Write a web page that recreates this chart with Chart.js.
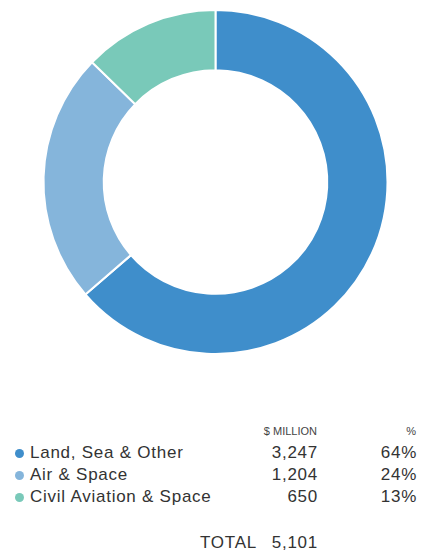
<!DOCTYPE html>
<html>
<head>
<meta charset="utf-8">
<script src="https://cdn.jsdelivr.net/npm/chart.js@4"></script>
<style>
  body { margin: 0; background: #fff; font-family: "Liberation Sans", Arial, sans-serif; color: #333; }
  #wrap { position: relative; width: 431px; height: 551px; }
  #chart { position: absolute; left: 0; top: 0; }
  .cell { position: absolute; white-space: nowrap; line-height: 22px; }
  .num { text-align: right; }
  .head { font-size: 11px; color: #444; line-height: 14px; }
  .row { font-size: 17px; letter-spacing: 0.75px; }
  .dot { position: absolute; width: 9px; height: 9px; border-radius: 50%; }
</style>
</head>
<body>
<div id="wrap">
  <canvas id="chart" width="431" height="364"></canvas>
  <div id="legend"></div>
</div>
<script>
const categories = ['Land, Sea & Other', 'Air & Space', 'Civil Aviation & Space'];
const values = [3247, 1204, 650];
const percents = ['64%', '24%', '13%'];
const colors = ['#3f8ecb', '#85b5db', '#79c9b9'];
const totalLabel = '5,101';

new Chart(document.getElementById('chart'), {
  type: 'doughnut',
  data: {
    labels: categories,
    datasets: [{
      data: values,
      backgroundColor: colors,
      borderColor: '#fff',
      borderWidth: 2
    }]
  },
  options: {
    responsive: false,
    animation: false,
    cutout: '65%',
    layout: { padding: { top: 9, bottom: 9 } },
    plugins: { legend: { display: false }, tooltip: { enabled: false } }
  }
});

// table under the doughnut
const legend = document.getElementById('legend');
function cell(cls, text, style) {
  const d = document.createElement('div');
  d.className = 'cell ' + cls;
  d.textContent = text;
  Object.assign(d.style, style);
  legend.appendChild(d);
}
cell('head num', '$ MILLION', { right: (431 - 317) + 'px', top: '424px' });
cell('head num', '%', { right: (431 - 416) + 'px', top: '424px' });

categories.forEach((name, i) => {
  const top = 442 + i * 22.2;
  const dot = document.createElement('div');
  dot.className = 'dot';
  dot.style.left = '15px';
  dot.style.top = (top + 7) + 'px';
  dot.style.background = colors[i];
  legend.appendChild(dot);
  cell('row', name, { left: '30px', top: top + 'px' });
  cell('row num', values[i].toLocaleString('en-US'), { right: (431 - 318) + 'px', top: top + 'px' });
  cell('row num', percents[i], { right: (431 - 417) + 'px', top: top + 'px' });
});

cell('row', 'TOTAL', { left: '200px', top: '531.5px' });
cell('row num', totalLabel, { right: (431 - 318) + 'px', top: '531.5px' });
</script>
</body>
</html>
